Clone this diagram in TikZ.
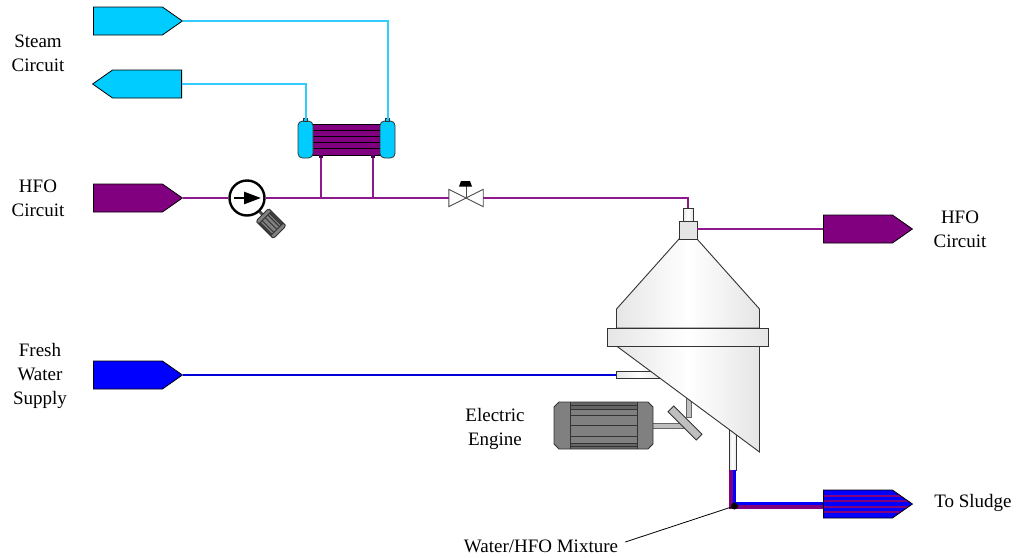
\documentclass[tikz,border=0pt]{standalone}
\usepackage{fontspec}
\setmainfont{Liberation Serif}
\usetikzlibrary{arrows.meta,shapes.symbols}
\definecolor{steam}{HTML}{00CCFF}
\definecolor{steamline}{HTML}{33CCFF}
\definecolor{hfo}{HTML}{800080}
\definecolor{water}{HTML}{0000FF}
\definecolor{motorgray}{HTML}{808080}
\tikzset{
  tag/.style={signal,signal to=east,signal pointer angle=70,draw=black,line width=0.8pt,
    minimum width=89pt,minimum height=28pt,inner sep=0pt,anchor=west},
  tagback/.style={tag,signal to=west,anchor=east},
  label/.style={align=center,font=\fontsize{19}{24}\selectfont,inner sep=0pt},
  steampipe/.style={steamline,line width=2pt},
  hfopipe/.style={hfo!90!white,line width=2pt},
  waterpipe/.style={water!85!black,line width=2pt},
  shell/.style={draw=black!80,line width=0.9pt,left color=gray!20,right color=gray!20,middle color=white},
  box/.style={shell,inner sep=0pt,rectangle},
  head/.style={rectangle,rounded corners=4.5pt,draw=black!80,fill=steam,line width=0.8pt,
    minimum width=15pt,minimum height=37pt,inner sep=0pt},
  motor/.pic={
    \fill[motorgray] (-44.5,-23.5) -- (44.5,-23.5) -- (49.5,-18.5) -- (49.5,18.5) -- (44.5,23.5)
      -- (-44.5,23.5) -- (-49.5,18.5) -- (-49.5,-18.5) -- cycle;
    \fill[black!60] (-33.5,-23.5) rectangle (33.5,-16.5);
    \fill[black!60] (-33.5,18) rectangle (33.5,23.5);
    \foreach \y in {-20,-16.5,-10,0,11,18,21}
      \draw[black!80,line width=0.9pt] (-33.5,\y) -- (33.5,\y);
    \draw[black!80,line width=0.9pt] (-33.5,-23.5) -- (-33.5,23.5);
    \draw[black!80,line width=0.9pt] (33.5,-23.5) -- (33.5,23.5);
    \draw[black!80,line width=0.9pt] (-44.5,-23.5) -- (44.5,-23.5) -- (49.5,-18.5) -- (49.5,18.5)
      -- (44.5,23.5) -- (-44.5,23.5) -- (-49.5,18.5) -- (-49.5,-18.5) -- cycle;
  }
}
\begin{document}
\begin{tikzpicture}[x=1pt,y=-1pt]
  \useasboundingbox (0,0) rectangle (1016,557);

  % Boundary tags
  \node[tag,fill=steam] (steamsupply) at (93,21) {};
  \node[tagback,fill=steam] (steamreturn) at (182,84) {};
  \node[tag,fill=hfo] (hfosupply) at (93,198) {};
  \node[tag,fill=water] (watersupply) at (93,375) {};
  \node[tag,fill=hfo] (hforeturn) at (823,229) {};
  \node[tag,fill=water,path picture={
    \foreach \s in {-8,-2.5,3,8.5}
      \draw[hfo,line width=2pt] ([yshift=\s pt]path picture bounding box.west)
        -- ([yshift=\s pt]path picture bounding box.east);
  }] (sludge) at (823,504) {};

  % Tag labels
  \node[label] (steamlabel) at (38,53.5) {Steam\\Circuit};
  \node[label] (hfolabel) at (38,198.5) {HFO\\Circuit};
  \node[label] (waterlabel) at (40,376) {Fresh\\Water\\Supply};
  \node[label] (hforeturnlabel) at (960,229.5) {HFO\\Circuit};
  \node[label] (sludgelabel) at (973,503) {To Sludge};
  \node[label] (enginelabel) at (495,428.5) {Electric\\Engine};
  \node[label] (mixlabel) at (541,546) {Water/HFO Mixture};

  % Heater
  \node[rectangle,draw=black,fill=hfo,line width=1pt,minimum width=68pt,minimum height=31pt,inner sep=0pt]
    (heater) at (346.5,139.5) {};
  \foreach \y in {130,136,142.5,148.5}
    \draw[black,line width=1pt] (313,\y) -- (380,\y);
  \node[head] (heatleft) at (305.5,139.5) {};
  \node[head] (heatright) at (387.5,139.5) {};
  \fill[black!80,fill=steam,draw=black!80] (303.5,121) rectangle (307.5,118.5);
  \fill[black!80,fill=steam,draw=black!80] (385.5,121) rectangle (389.5,118.5);
  \fill[hfo!60!black] (319,155) rectangle (323,158);
  \fill[hfo!60!black] (370.5,155) rectangle (374.5,158);
  \coordinate (steamtopleft) at (305.5,118.5);
  \coordinate (steamtopright) at (387.5,118.5);
  \coordinate (heatlow) at (321,158);
  \coordinate (heathigh) at (372.5,158);
  \coordinate (teelow) at (321,198);
  \coordinate (teehigh) at (372.5,198);

  % Pump
  \draw[black!70,line width=3pt] (258,210) -- (265,217);
  \pic[rotate=-45,xscale=0.25,yscale=0.38] at (271,223.5) {motor};
  \node[circle,draw=black,fill=white,line width=2.4pt,minimum size=35pt,inner sep=0pt] (pump) at (247,198) {};
  \draw[black,line width=2.6pt,-{Triangle[length=17pt,width=12pt]}] (234,198) -- (261,198);

  % Valve
  \node[inner sep=0pt,minimum width=34pt,minimum height=17pt] (valve) at (466,198) {};
  \draw[black!70,fill=white,line width=0.9pt] (valve.south west) -- (valve.north east)
    -- (valve.south east) -- (valve.north west) -- cycle;
  \draw[black!70,line width=1pt] (valve.center) -- (466,186);
  \fill[black] (459,186.5) -- (472,186.5) -- (470,181) -- (461,181) -- cycle;

  % Separator
  \node[box,minimum width=44pt,minimum height=7pt] (waterstub) at (638.5,375) {};
  \node[box,minimum width=7pt,minimum height=40pt] (drain) at (732.5,450) {};
  \draw[draw=black!60,fill=gray!50,line width=0.8pt] (686,395) rectangle (691,417);
  \draw[draw=black!60,fill=gray!50,line width=0.8pt] (650,423) rectangle (683,428);
  \draw[shell] (616.5,346) -- (759.5,452) -- (759.5,346) -- cycle;
  \draw[shell] (679,239) -- (616.5,309) -- (616.5,328) -- (759.5,328) -- (759.5,309) -- (697,239) -- cycle;
  \node[box,minimum width=161pt,minimum height=18pt] (flange) at (687.5,337) {};
  \node[box,minimum width=18pt,minimum height=18pt,left color=gray!20,right color=gray!20] (neck) at (688,230) {};
  \node[box,minimum width=10pt,minimum height=13pt] (feed) at (688,214.5) {};

  % Electric engine
  \draw[black!80,fill=gray!50,line width=0.9pt,rotate around={-45:(685,423)}] (665,419) rectangle (705,427);
  \pic at (603.5,425.5) {motor};

  % Pipes
  \draw[steampipe] (steamsupply.east) -| (steamtopright);
  \draw[steampipe] (steamreturn.east) -| (steamtopleft);
  \draw[hfopipe] (hfosupply.east) -- (pump.west);
  \draw[hfopipe] (pump.east) -- (valve.west);
  \draw[hfopipe] (valve.east) -| (feed.north);
  \draw[hfopipe] (heatlow) -- (teelow);
  \draw[hfopipe] (heathigh) -- (teehigh);
  \draw[hfopipe] ([yshift=1pt]neck.east) -- (hforeturn.west);
  \draw[waterpipe] (watersupply.east) -- (waterstub.west);
  \draw[hfo,line width=3.6pt] ([xshift=-1.8pt]drain.south) |- ([yshift=-3pt]sludge.west);
  \draw[water,line width=3.2pt] ([xshift=1.8pt]drain.south) |- ([yshift=0.4pt]sludge.west);

  % Mixture leader
  \node[circle,fill=black,minimum size=7pt,inner sep=0pt] (mixdot) at (734.5,506) {};
  \draw[black,line width=0.8pt] (mixdot) -- ([xshift=7pt,yshift=4pt]mixlabel.east);
\end{tikzpicture}
\end{document}
